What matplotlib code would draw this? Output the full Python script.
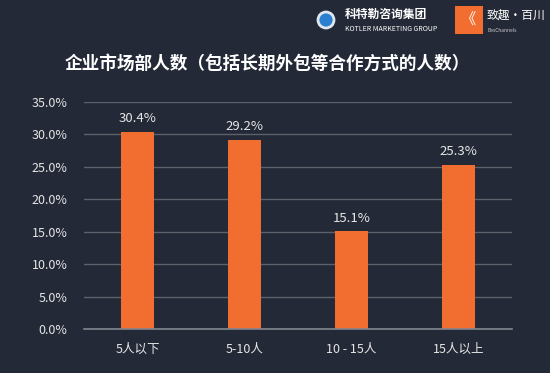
import matplotlib.pyplot as plt
import matplotlib.patches as mpatches
from matplotlib.ticker import FuncFormatter

plt.rcParams['font.family'] = ['Noto Sans CJK SC', 'DejaVu Sans']

# data
categories = ['5人以下', '5-10人', '10 - 15人', '15人以上']
values = [30.4, 29.2, 15.1, 25.3]
yticks = [0, 5, 10, 15, 20, 25, 30, 35]

bg = '#232936'
bar_color = '#f26d30'
text_color = '#e6e6e6'

fig = plt.figure(figsize=(5.5, 3.73), dpi=100, facecolor=bg)
ax = fig.add_axes([0.1527, 0.118, 0.7782, 0.6085], facecolor=bg)

x = range(len(categories))
ax.bar(x, values, width=0.31, color=bar_color, zorder=3)
for i, v in enumerate(values):
    ax.text(i, v + 1.0, f'{v:.1f}%', ha='center', va='bottom',
            color=text_color, fontsize=9.5)

ax.set_xlim(-0.5, 3.5)
ax.set_ylim(0, 35)
ax.set_yticks(yticks)
ax.yaxis.set_major_formatter(FuncFormatter(lambda v, p: f'{v:.1f}%'))
ax.set_xticks(list(x))
ax.set_xticklabels(categories)
ax.tick_params(axis='both', length=0, colors=text_color, labelsize=9)
ax.tick_params(axis='y', pad=12)
ax.tick_params(axis='x', pad=10)
ax.grid(axis='y', color='#5c616b', linewidth=1, zorder=0)
for s in ['top', 'right', 'left']:
    ax.spines[s].set_visible(False)
ax.spines['bottom'].set_color('#80858e')
ax.spines['bottom'].set_linewidth(1.2)
ax.spines['bottom'].set_zorder(4)

fig.text(0.487, 0.828, '企业市场部人数（包括长期外包等合作方式的人数）',
         ha='center', va='center', color='white', fontsize=12.7,
         fontweight='bold')

# logos top right
circ = mpatches.Circle((326, 373 - 20), 8, transform=None, facecolor='#2b7fd0',
                       edgecolor='#dfe6ee', linewidth=2.0)
fig.patches.append(circ)
fig.text(345 / 550, 1 - 14 / 373, '科特勒咨询集团', color='white', fontsize=8.5,
         va='center', ha='left', fontweight='bold')
fig.text(345 / 550, 1 - 29 / 373, 'KOTLER MARKETING GROUP', color='white',
         fontsize=5, va='center', ha='left')
sq = mpatches.Rectangle((455, 373 - 34), 28, 28, transform=None,
                        facecolor='#f26d30', edgecolor='none')
fig.patches.append(sq)
fig.text(469 / 550, 1 - 20 / 373, '《', color='white', fontsize=11,
         va='center', ha='center')
fig.text(487 / 550, 1 - 15 / 373, '致趣·百川', color='white', fontsize=8.5,
         va='center', ha='left')
fig.text(487 / 550, 1 - 30 / 373, 'BesChannels', color='#cccccc', fontsize=3.5,
         va='center', ha='left')

fig.savefig('out.png', dpi=100, facecolor=bg)
